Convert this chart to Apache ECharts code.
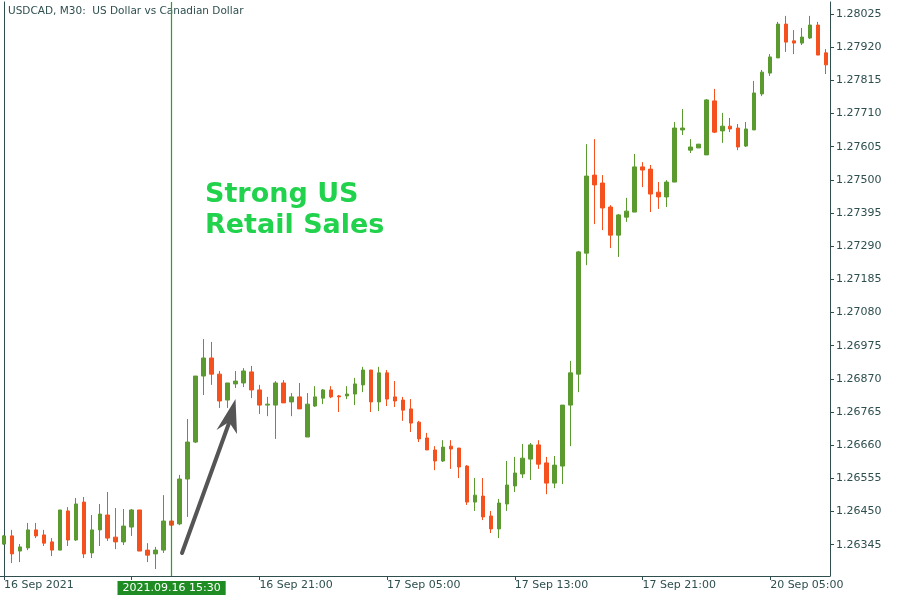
<!DOCTYPE html>
<html><head><meta charset="utf-8">
<script src="https://cdn.jsdelivr.net/npm/echarts@6/dist/echarts.min.js"></script>
<style>html,body{margin:0;padding:0;background:#fff}#c{width:900px;height:600px}</style>
</head><body><div id="c"></div>
<script>
// sessions of M30 bars: [day label, first bar time, bar count]
const sessions = [['16 Sep', '05:00', 38], ['17 Sep', '00:00', 48], ['20 Sep', '00:00', 18]];

const open = [
1.26347,1.26373,1.26325,1.26335,1.26392,1.26376,1.26354,1.26328,1.26452,1.26360,
1.26480,1.26319,1.26392,1.26439,1.26369,1.26354,1.26401,1.26455,1.26328,1.26316,
1.26328,1.26420,1.26411,1.26553,1.26670,1.26879,1.26936,1.26885,1.26803,1.26854,
1.26857,1.26892,1.26835,1.26787,1.26787,1.26857,1.26797,1.26813,1.26686,1.26784,
1.26809,1.26835,1.26816,1.26816,1.26822,1.26851,1.26898,1.26797,1.26889,1.26813,
1.26803,1.26775,1.26733,1.26683,1.26645,1.26610,1.26657,1.26651,1.26594,1.26480,
1.26499,1.26436,1.26395,1.26474,1.26531,1.26569,1.26616,1.26661,1.26604,1.26540,
1.26594,1.26787,1.26885,1.27268,1.27515,1.27490,1.27414,1.27325,1.27382,1.27398,
1.27541,1.27534,1.27461,1.27446,1.27493,1.27658,1.27594,1.27601,1.27579,1.27750,
1.27655,1.27670,1.27664,1.27607,1.27658,1.27772,1.27838,1.27886,1.27993,1.27940,
1.27933,1.27949,1.27990,1.27902];
const close = [
1.26373,1.26316,1.26338,1.26392,1.26373,1.26350,1.26328,1.26455,1.26360,1.26474,
1.26316,1.26392,1.26442,1.26366,1.26354,1.26404,1.26455,1.26325,1.26312,1.26328,
1.26420,1.26407,1.26553,1.26670,1.26879,1.26936,1.26885,1.26800,1.26857,1.26863,
1.26895,1.26835,1.26787,1.26790,1.26857,1.26794,1.26813,1.26775,1.26790,1.26813,
1.26835,1.26813,1.26813,1.26822,1.26854,1.26898,1.26797,1.26889,1.26806,1.26800,
1.26771,1.26730,1.26680,1.26645,1.26610,1.26654,1.26648,1.26591,1.26480,1.26502,
1.26433,1.26395,1.26477,1.26534,1.26572,1.26619,1.26661,1.26600,1.26540,1.26597,
1.26787,1.26889,1.27272,1.27512,1.27484,1.27411,1.27325,1.27389,1.27401,1.27541,
1.27531,1.27455,1.27446,1.27493,1.27664,1.27664,1.27604,1.27613,1.27753,1.27651,
1.27670,1.27661,1.27604,1.27661,1.27775,1.27841,1.27889,1.27993,1.27936,1.27933,
1.27952,1.27990,1.27895,1.27864];
const low = [
1.26344,1.26287,1.26290,1.26328,1.26366,1.26341,1.26309,1.26328,1.26341,1.26357,
1.26303,1.26303,1.26341,1.26357,1.26331,1.26344,1.26373,1.26325,1.26290,1.26268,
1.26319,1.26407,1.26407,1.26433,1.26667,1.26819,1.26851,1.26778,1.26778,1.26841,
1.26844,1.26809,1.26759,1.26752,1.26680,1.26794,1.26752,1.26775,1.26686,1.26781,
1.26790,1.26809,1.26765,1.26806,1.26787,1.26828,1.26765,1.26768,1.26784,1.26781,
1.26737,1.26702,1.26670,1.26645,1.26581,1.26607,1.26585,1.26556,1.26471,1.26452,
1.26423,1.26382,1.26366,1.26452,1.26512,1.26556,1.26550,1.26585,1.26505,1.26524,
1.26537,1.26657,1.26828,1.27230,1.27360,1.27341,1.27284,1.27256,1.27367,1.27398,
1.27477,1.27398,1.27408,1.27414,1.27493,1.27642,1.27585,1.27601,1.27579,1.27648,
1.27617,1.27651,1.27594,1.27604,1.27658,1.27765,1.27829,1.27886,1.27905,1.27898,
1.27927,1.27946,1.27895,1.27835];
const high = [
1.26376,1.26392,1.26347,1.26414,1.26414,1.26392,1.26366,1.26455,1.26464,1.26493,
1.26496,1.26439,1.26474,1.26512,1.26461,1.26458,1.26458,1.26455,1.26350,1.26338,
1.26502,1.26420,1.26566,1.26743,1.26879,1.26996,1.26987,1.26895,1.26857,1.26895,
1.26904,1.26911,1.26851,1.26813,1.26863,1.26866,1.26825,1.26857,1.26825,1.26847,
1.26838,1.26847,1.26819,1.26847,1.26873,1.26908,1.26898,1.26908,1.26898,1.26863,
1.26813,1.26806,1.26737,1.26699,1.26657,1.26676,1.26676,1.26651,1.26597,1.26556,
1.26556,1.26452,1.26490,1.26610,1.26623,1.26664,1.26667,1.26676,1.26623,1.26626,
1.26787,1.26927,1.27275,1.27613,1.27629,1.27515,1.27420,1.27392,1.27443,1.27582,
1.27556,1.27547,1.27493,1.27499,1.27683,1.27724,1.27629,1.27613,1.27756,1.27788,
1.27712,1.27696,1.27677,1.27683,1.27813,1.27848,1.27898,1.28000,1.28019,1.27974,
1.27981,1.28019,1.28000,1.27914];

const yTicks = [1.26345,1.26450,1.26555,1.26660,1.26765,1.26870,1.26975,1.27080,1.27185,
  1.27290,1.27395,1.27500,1.27605,1.27710,1.27815,1.27920,1.28025];
const xTickIdx = [0,16,32,48,64,80,96];
const xTickLabels = ['16 Sep 2021','16 Sep 13:00','16 Sep 21:00','17 Sep 05:00','17 Sep 13:00','17 Sep 21:00','20 Sep 05:00'];
const markerIndex = 21;
const markerLabel = '2021.09.16 15:30';
const titleText = 'USDCAD, M30:  US Dollar vs Canadian Dollar';
const noteText = 'Strong US\nRetail Sales';

// build category labels
const categories = [];
sessions.forEach(([d, t, n]) => {
  let [h, m] = t.split(':').map(Number);
  for (let k = 0; k < n; k++) {
    categories.push(d + ' ' + String(h).padStart(2,'0') + ':' + String(m).padStart(2,'0'));
    m += 30; if (m >= 60) { m -= 60; h += 1; }
  }
});
const candles = open.map((o, i) => [o, close[i], low[i], high[i]]);
const labelMap = {};
xTickIdx.forEach((idx, k) => labelMap[idx] = xTickLabels[k]);
// the tick label at index 16 is hidden behind the crosshair date box in the reference
const hiddenLabelIdx = [16];

const axisColor = '#2f4f4f';
const up = '#5b9a2f', down = '#f4511e', marker = '#1fa51f', markerBox = '#1e8b23';
const font = 'DejaVu Sans';

const chart = echarts.init(document.getElementById('c'), null, {renderer: 'canvas'});
chart.setOption({
  animation: false,
  backgroundColor: '#fff',
  title: {text: titleText, left: 3, top: 1,
    textStyle: {color: axisColor, fontFamily: font, fontSize: 10.5, fontWeight: 'normal'}},
  grid: {left: -2, right: 70, top: 2, bottom: 24, containLabel: false},
  xAxis: [{
    type: 'category', data: categories, boundaryGap: true, position: 'bottom',
    axisLine: {show: true, onZero: false, lineStyle: {color: axisColor, width: 1}},
    axisTick: {show: true, alignWithLabel: true, length: 4, interval: (i) => xTickIdx.includes(i),
      lineStyle: {color: axisColor}},
    axisLabel: {show: true, interval: (i) => xTickIdx.includes(i) && !hiddenLabelIdx.includes(i),
      formatter: (v, i) => labelMap[i] || '',
      align: 'left', color: axisColor, fontFamily: font, fontSize: 11, margin: 4},
    splitLine: {show: false},
    axisPointer: {show: true, type: 'line', value: markerIndex, status: 'show', snap: true,
      triggerTooltip: false,
      lineStyle: {color: marker, width: 0, type: 'solid', opacity: 0},
      label: {show: true, formatter: () => markerLabel, backgroundColor: markerBox, color: '#fff',
        fontFamily: font, fontSize: 11, padding: [2, 5, 1, 5], margin: 5, borderRadius: 0}}
  }],
  yAxis: [{
    type: 'value', position: 'right', min: 1.26246, max: 1.28063, scale: true,
    axisLine: {show: true, lineStyle: {color: axisColor, width: 1}},
    axisTick: {show: true, length: 4, customValues: yTicks, lineStyle: {color: axisColor}},
    axisLabel: {show: true, customValues: yTicks, formatter: (v) => v.toFixed(5),
      color: axisColor, fontFamily: font, fontSize: 11, margin: 6},
    splitLine: {show: false}
  }, {
    type: 'value', position: 'left', offset: -4, min: 1.26246, max: 1.28063,
    axisLine: {show: true, onZero: false, lineStyle: {color: axisColor, width: 1}},
    axisTick: {show: false}, axisLabel: {show: false}, splitLine: {show: false}
  }],
  series: [{
    type: 'candlestick', data: candles, barWidth: 4,
    itemStyle: {color: up, color0: down, borderColor: up, borderColor0: down, borderWidth: 1},
    markLine: {silent: true, symbol: 'none', animation: false, z: 10,
      label: {show: false},
      lineStyle: {color: marker, width: 1.2, type: 'solid', opacity: 1},
      data: [{xAxis: markerIndex, lineStyle: {color: marker, width: 1.2, type: 'solid'}}]}
  }],
  graphic: [
    {type: 'text', left: 205, top: 179, z: 100,
      style: {text: noteText, fill: '#21d24c', font: 'bold 27px "DejaVu Sans"', lineHeight: 31}},
    {type: 'line', z: 100, shape: {x1: 182, y1: 553, x2: 229, y2: 423},
      style: {stroke: '#555', lineWidth: 4, lineCap: 'round'}},
    {type: 'polygon', z: 100, shape: {points: [[235.5, 399], [216.5, 430], [229, 422], [237, 434]]},
      style: {fill: '#555'}}
  ]
});
</script></body></html>
